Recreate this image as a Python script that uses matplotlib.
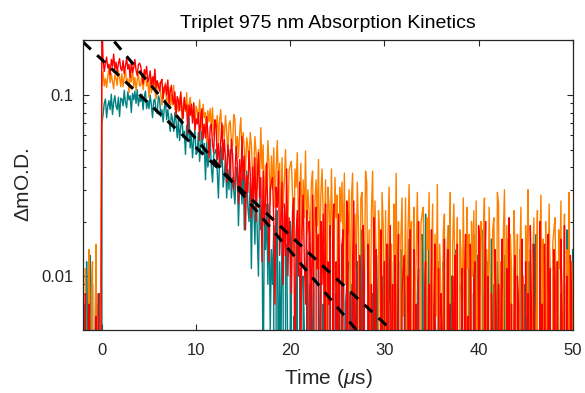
import matplotlib
matplotlib.use("Agg")
import matplotlib.pyplot as plt
from matplotlib.ticker import LogLocator, NullFormatter, FixedLocator, FixedFormatter
import numpy as np

plt.rcParams['font.family'] = ['Liberation Sans', 'DejaVu Sans']
plt.rcParams['mathtext.fontset'] = 'custom'
plt.rcParams['mathtext.rm'] = 'Liberation Sans'
plt.rcParams['mathtext.it'] = 'Liberation Sans:italic'

# sample times (us), 0.125 us steps from -2 to 50
time_us = np.arange(-2.0, 50.001, 0.125)

# traces in units of 1e-3 O.D., one row = 2 us
teal_trace = [
    -3, 7, -8, 12, 2, -5, 13, -1, 9, -10, 4, 11, -6, 3, 8, -4,
    70,
    78, 90, 95, 75, 87, 93, 83, 101, 78, 91, 99, 87, 83, 97, 76, 96,
    95, 87, 106, 91, 85, 104, 94, 99, 80, 102, 94, 105, 90, 107, 87, 97,
    92, 101, 83, 98, 105, 84, 93, 84, 100, 88, 75, 93, 95, 82, 79, 99,
    95, 76, 83, 71, 84, 94, 73, 83, 73, 63, 79, 73, 63, 80, 72, 58,
    73, 56, 67, 76, 58, 63, 47, 68, 58, 76, 51, 61, 45, 57, 64, 47,
    48, 62, 43, 53, 64, 47, 54, 34, 55, 40, 45, 57, 40, 33, 47, 48,
    50, 38, 27, 46, 40, 52, 31, 36, 46, 27, 39, 30, 50, 27, 35, 30,
    25, 36, 40, 19, 31, 35, 25, 42, 18, 30, 38, 24, 20, 33, 11, 30,
    24, 15, 34, 17, 10, 29, 18, 22, 2, 23, 14, 25, 9, 25, 5, 14,
    9, 19, 0, 16, 23, 2, 12, 3, 19, 8, -5, 13, 15, 3, -1, 20,
    16, -2, 6, -5, 9, 20, 0, 11, 2, -7, 10, 5, -4, 14, 7, -6,
    9, -7, 5, 15, -2, 4, -11, 11, 1, 20, -4, 7, -8, 5, 13, -3,
    -2, 13, -6, 5, 17, 0, 8, -11, 11, -4, 2, 15, -1, -8, 7, 9,
    12, 0, -10, 9, 4, 16, -4, 1, 12, -7, 6, -3, 18, -5, 4, -1,
    -5, 7, 11, -9, 3, 8, -2, 16, -8, 5, 13, 0, -4, 10, -12, 8,
    4, -4, 15, -1, -7, 12, 2, 7, -13, 9, 1, 12, -3, 14, -6, 4,
    0, 10, -8, 8, 16, -5, 5, -3, 13, 2, -10, 8, 11, -1, -4, 17,
    14, -4, 22, -7, 7, 18, -2, 9, 0, -9, 8, 3, -6, 12, 5, -8,
    -4, 12, 4, -9, 6, -5, 19, 0, 10, -12, 3, -3, 14, 4, -8, 8,
    9, 7, -8, -1, 15, 2, -4, 11, -11, 8, 0, 17, 5, -6, 13, -2,
    -1, 4, -5, 18, -3, 6, -7, 12, 1, -4, 16, 4, 9, -10, 0, 12,
    8, -12, 10, -4, 0, 13, 5, -8, 16, -2, 8, 3, -9, 11, 7, -5,
    4, -6, 14, -3, 12, 1, 9, -13, 7, 2, 12, -7, -1, 15, -4, 4,
    17, -4, -1, 11, 8, -10, 2, 13, -3, 5, -5, 16, 8, -8, 10, 0,
    -8, 5, 12, -6, 3, 8, -9, 0, 9, -2, 18, 7, -7, 4, -4, 14,
]

orange_trace = [
    6, -4, 11, 2, -9, 14, -3, 8, 12, -6, 3, 15, -2, 7, -8, 10,
    112,
    135, 112, 123, 110, 127, 141, 117, 131, 119, 108, 129, 124, 113, 136, 127, 111,
    131, 111, 126, 137, 116, 123, 103, 131, 118, 142, 111, 125, 106, 121, 131, 112,
    113, 131, 107, 120, 134, 112, 121, 97, 123, 103, 110, 126, 105, 95, 113, 115,
    117, 101, 88, 111, 103, 117, 91, 97, 110, 85, 100, 88, 113, 83, 94, 87,
    81, 95, 100, 74, 88, 95, 81, 103, 73, 88, 97, 81, 75, 91, 64, 87,
    82, 71, 94, 73, 65, 89, 75, 80, 55, 82, 71, 84, 65, 85, 60, 71,
    66, 77, 54, 73, 83, 56, 68, 58, 77, 63, 47, 69, 72, 56, 52, 78,
    73, 49, 59, 45, 61, 75, 49, 62, 50, 38, 58, 52, 40, 62, 53, 36,
    39, 59, 48, 30, 50, 34, 66, 39, 53, 21, 41, 33, 56, 41, 25, 46,
    30, 51, 24, 39, 56, 32, 42, 16, 45, 24, 33, 50, 28, 18, 38, 41,
    43, 27, 13, 39, 31, 48, 20, 27, 42, 16, 34, 21, 49, 17, 30, 23,
    16, 33, 38, 10, 26, 34, 19, 44, 11, 28, 39, 22, 15, 34, 4, 31,
    25, 14, 39, 17, 9, 35, 21, 28, -1, 31, 20, 33, 13, 37, 9, 22,
    17, 30, 5, 27, 37, 8, 22, 11, 33, 18, 1, 27, 29, 13, 8, 38,
    33, 7, 18, 4, 23, 38, 10, 26, 12, 0, 23, 16, 4, 29, 19, 2,
    23, 1, 17, 31, 7, 15, -6, 25, 11, 37, 4, 20, -1, 16, 27, 6,
    8, 27, 3, 17, 32, 11, 20, -3, 24, 5, 13, 29, 9, 0, 19, 22,
    24, 9, -3, 21, 14, 29, 4, 11, 25, 1, 17, 6, 32, 3, 15, 8,
    2, 17, 22, -3, 12, 19, 6, 29, -1, 15, 25, 9, 4, 21, -6, 18,
    14, 4, 27, 7, 0, 24, 11, 17, -8, 20, 10, 23, 5, 26, 1, 13,
    8, 20, -3, 17, 27, 1, 14, 4, 24, 10, -5, 18, 21, 6, 2, 29,
    25, 2, 12, -1, 16, 30, 5, 19, 7, -4, 17, 11, 0, 23, 14, -2,
    17, -3, 12, 24, 3, 10, -9, 19, 6, 30, 0, 14, -5, 11, 21, 2,
    4, 23, -1, 13, 28, 7, 16, -7, 20, 1, 9, 25, 5, -4, 15, 18,
    21, 6, -6, 18, 11, 26, 1, 8, 22, -2, 14, 3, 29, 0, 12, 5,
]

red_trace = [
    2, -4, 8, -2, -6, 7, 0, 3, -10, 5, -1, 6, -3, 8, -5, 1,
    260,
    155, 135, 150, 162, 141, 148, 129, 157, 144, 168, 138, 152, 133, 149, 159, 140,
    136, 155, 131, 145, 160, 139, 148, 125, 152, 133, 141, 157, 137, 128, 147, 150,
    144, 128, 115, 138, 130, 144, 118, 124, 136, 111, 126, 114, 139, 109, 120, 112,
    105, 118, 122, 95, 109, 114, 100, 121, 90, 104, 113, 95, 89, 104, 76, 98,
    93, 82, 104, 82, 74, 97, 83, 88, 61, 88, 77, 89, 70, 90, 64, 74,
    69, 80, 56, 75, 84, 57, 69, 58, 76, 61, 45, 67, 69, 53, 48, 73,
    68, 44, 54, 40, 56, 70, 44, 57, 44, 33, 53, 46, 35, 57, 47, 30,
    34, 52, 42, 25, 44, 29, 59, 34, 46, 18, 36, 29, 49, 37, 21, 40,
    26, 45, 20, 34, 48, 27, 35, 12, 38, 19, 26, 42, 21, 12, 30, 33,
    35, 20, 7, 31, 24, 38, 13, 20, 33, 9, 25, 13, 39, 10, 21, 14,
    8, 23, 27, 2, 17, 23, 10, 33, 3, 18, 28, 12, 7, 23, -4, 20,
    15, 5, 28, 8, 0, 24, 11, 17, -8, 20, 9, 22, 4, 25, 0, 12,
    7, 19, -4, 15, 25, -1, 12, 2, 22, 8, -8, 15, 18, 3, -1, 26,
    21, -2, 8, -5, 12, 26, 1, 15, 3, -8, 13, 7, -4, 19, 10, -6,
    -3, 15, 6, -10, 9, -5, 21, 1, 14, -14, 5, -2, 18, 7, -8, 12,
    -2, 15, -6, 7, 19, 1, 9, -12, 13, -4, 3, 17, -1, -9, 8, 11,
    13, 0, -11, 10, 4, 18, -5, 2, 14, -8, 7, -3, 20, -6, 5, -1,
    -6, 7, 12, -11, 3, 9, -3, 18, -9, 6, 15, 0, -4, 11, -13, 8,
    5, -4, 16, -2, -8, 14, 2, 7, -15, 10, 1, 13, -3, 15, -7, 4,
    0, 11, -10, 8, 17, -6, 6, -3, 15, 2, -12, 9, 12, -2, -5, 19,
    16, -5, 4, -8, 7, 20, -3, 10, -1, -11, 8, 3, -7, 14, 6, -9,
    9, -9, 5, 16, -3, 3, -14, 11, -1, 21, -6, 7, -11, 4, 13, -4,
    10, 7, -10, -2, 16, 2, -5, 12, -12, 8, 0, 19, 6, -7, 15, -3,
    -2, 5, -6, 20, -4, 7, -8, 15, 1, -5, 17, 4, 11, -12, -1, 14,
    9, -13, 12, -5, 0, 16, 6, -9, 19, -3, 10, 3, -11, 13, 8, -7,
]

# exponential fits, straight on the log axis: end points (t, dOD)
fit_a_t = [-2.0, 34.0]
fit_a_y = [0.196, 0.0035]
fit_b_t = [0.0, 30.0]
fit_b_y = [0.238, 0.0033]

x_ticks = [0, 10, 20, 30, 40, 50]
y_ticks = [0.01, 0.1]
y_tick_labels = ['0.01', '0.1']

teal = '#008080'
orange = '#ff8000'
red = '#ff0000'
axis_grey = '#262626'

fig = plt.figure(figsize=(5.85, 3.93), dpi=100)
ax = fig.add_axes([0.142, 0.160, 0.837, 0.738])

ax.plot(time_us, np.array(teal_trace) / 1000.0, color=teal, lw=1.0)
ax.plot(time_us, np.array(orange_trace) / 1000.0, color=orange, lw=1.0)
ax.plot(time_us, np.array(red_trace) / 1000.0, color=red, lw=1.0)

ax.plot(fit_a_t, fit_a_y, color='black', lw=2.2, linestyle=(0, (3.5, 2.8)))
ax.plot(fit_b_t, fit_b_y, color='black', lw=2.2, linestyle=(0, (3.5, 2.8)))

ax.set_yscale('log')
ax.set_xlim(-2, 50)
ax.set_ylim(0.00503, 0.201)

ax.xaxis.set_major_locator(FixedLocator(x_ticks))
ax.yaxis.set_major_locator(FixedLocator(y_ticks))
ax.yaxis.set_major_formatter(FixedFormatter(y_tick_labels))
ax.yaxis.set_minor_locator(LogLocator(base=10, subs=np.arange(2, 10)))
ax.yaxis.set_minor_formatter(NullFormatter())

ax.tick_params(which='both', direction='in', top=True, right=True,
               colors=axis_grey, labelsize=12, width=0.8)
ax.tick_params(which='major', length=4.5)
ax.tick_params(which='minor', length=2.5)
ax.tick_params(axis='x', pad=9)
ax.tick_params(axis='y', pad=7)
for sp in ax.spines.values():
    sp.set_color(axis_grey)
    sp.set_linewidth(0.9)

ax.set_title('Triplet 975 nm Absorption Kinetics', fontsize=14, pad=9)
ax.set_xlabel(r'Time ($\mu$s)', fontsize=15, color=axis_grey, labelpad=7)
ax.set_ylabel(r'$\Delta$mO.D.', fontsize=15, color=axis_grey, labelpad=6)

fig.savefig('out.png', dpi=100)
